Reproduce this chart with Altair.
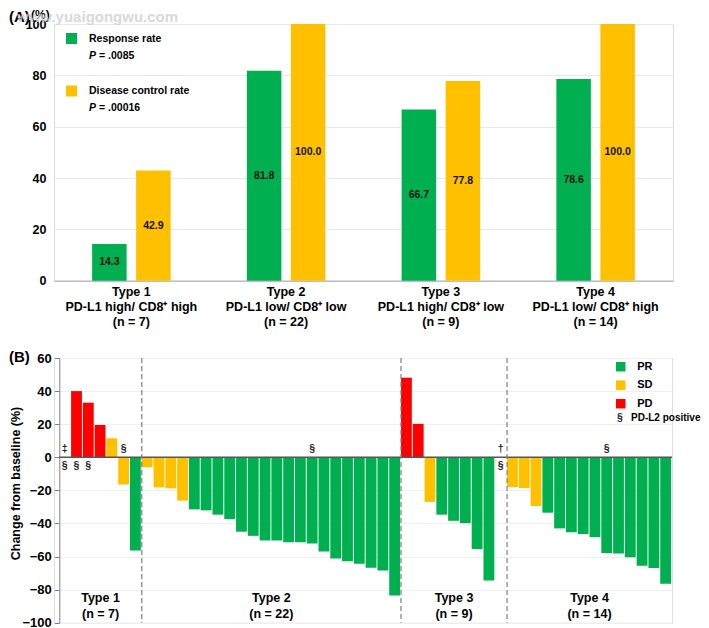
import altair as alt
import pandas as pd

# ---------------- Panel A data ----------------
groups = [
    "Type 1|PD-L1 high/ CD8⁺ high|(n = 7)",
    "Type 2|PD-L1 low/ CD8⁺ low|(n = 22)",
    "Type 3|PD-L1 high/ CD8⁺ low|(n = 9)",
    "Type 4|PD-L1 low/ CD8⁺ high|(n = 14)",
]
metrics = ["Response rate", "Disease control rate"]
response_rate = [14.3, 81.8, 66.7, 78.6]
disease_control_rate = [42.9, 100.0, 77.8, 100.0]
p_values = ["= .0085", "= .00016"]
colors_a = ["#00B050", "#FFC000"]

# ---------------- Panel B data ----------------
type_names = ["Type 1", "Type 2", "Type 3", "Type 4"]
type_n = [7, 22, 9, 14]
change = [0, 40, 33, 19.5, 11.5, -16.5, -56.4,
          -6, -18.2, -18.8, -26.2, -31.5, -32.1, -34.7, -37.4, -45, -47.5,
          -50.3, -50.3, -51.3, -51.3, -52.1, -57, -61.2, -62.8, -64.3, -66.8,
          -68.4, -83.6,
          48.1, 20.2, -27, -34.7, -38.4, -39.8, -55.5, -74.5, 0,
          -18, -18.6, -29.5, -33.5, -43, -45.4, -46.4, -48.3, -57.8, -58.2,
          -60.4, -65.6, -67, -76.5]
response = (["NE", "PD", "PD", "PD", "SD", "SD", "PR"]
            + ["SD", "SD", "SD", "SD"] + ["PR"] * 18
            + ["PD", "PD", "SD", "PR", "PR", "PR", "PR", "PR", "NE"]
            + ["SD", "SD", "SD"] + ["PR"] * 11)
legend_b = ["PR", "SD", "PD"]
colors_b = ["#00B050", "#FFC000", "#FF0000"]
pdl2_label = "PD-L2 positive"
annot_slot = [0, 0, 1, 2, 5, 21, 37, 37, 46]
annot_symbol = ["‡", "§", "§", "§", "§", "§", "†", "§", "§"]
annot_side = ["above", "below", "below", "below", "above", "above", "above", "below", "above"]

FONT = "Liberation Sans"

# ================= Panel A =================
WA, HA = 619, 256.7
dfA = pd.DataFrame({
    "group": groups * 2,
    "metric": [metrics[0]] * 4 + [metrics[1]] * 4,
    "value": response_rate + disease_control_rate,
})

xA = alt.X("group:N", sort=groups, scale=alt.Scale(paddingInner=0, paddingOuter=0),
           axis=alt.Axis(title=None, labelExpr="split(datum.label, '|')", labelFontSize=12.5,
                         labelFontWeight="bold", labelColor="black", labelLineHeight=15,
                         labelPadding=5, ticks=False, domainColor="#bfbfbf", domainWidth=1.5,
                         labelAngle=0, labelLimit=0))
xoA = alt.XOffset("metric:N", sort=metrics,
                  scale=alt.Scale(domain=metrics, paddingInner=0.216, paddingOuter=0.866))
yA = alt.Y("value:Q", scale=alt.Scale(domain=[0, 100], nice=False),
           axis=alt.Axis(values=[0, 20, 40, 60, 80, 100], title=None, domain=False, ticks=False,
                         labelPadding=8, labelFontSize=12.5, labelFontWeight="bold",
                         labelColor="black", grid=True, gridColor="#e8e8e8",
                         labelOverlap=False, minExtent=45, maxExtent=45))

barsA = alt.Chart(dfA).mark_bar().encode(
    x=xA, xOffset=xoA, y=yA,
    color=alt.Color("metric:N", sort=metrics,
                    scale=alt.Scale(domain=metrics, range=colors_a),
                    legend=alt.Legend(orient="none", legendX=12, legendY=9, title=None,
                                      symbolType="square", symbolSize=121, symbolStrokeWidth=0,
                                      labelFontSize=10.5, labelFontWeight="bold",
                                      labelColor="black", labelOffset=12, rowPadding=41.5,
                                      padding=0)),
)
labelsA = alt.Chart(dfA).transform_calculate(mid="datum.value / 2").mark_text(
    fontSize=10.5, fontWeight="bold", color="#111111"
).encode(x=xA, xOffset=xoA, y=alt.Y("mid:Q"), text=alt.Text("value:Q", format=".1f"))

layersA = [barsA, labelsA]
for k in range(2):
    yk = 31.7 + k * 52.2
    layersA.append(alt.Chart(pd.DataFrame({"t": ["P"]})).mark_text(
        fontSize=10.5, fontWeight="bold", fontStyle="italic", align="left", baseline="middle",
        color="black").encode(x=alt.value(35), y=alt.value(yk), text="t:N"))
    layersA.append(alt.Chart(pd.DataFrame({"t": [p_values[k]]})).mark_text(
        fontSize=10.5, fontWeight="bold", align="left", baseline="middle",
        color="black").encode(x=alt.value(45), y=alt.value(yk), text="t:N"))

layersA.append(alt.Chart(pd.DataFrame({"t": ["(A)"]})).mark_text(
    fontSize=15, fontWeight="bold", align="left", baseline="top", color="black"
).encode(x=alt.value(-45), y=alt.value(-13.6), text="t:N"))
layersA.append(alt.Chart(pd.DataFrame({"t": ["(%)"]})).mark_text(
    fontSize=12, fontWeight="bold", align="left", baseline="top", color="black"
).encode(x=alt.value(-23), y=alt.value(-13.6), text="t:N"))
layersA.append(alt.Chart(pd.DataFrame({"t": ["www.yuaigongwu.com"]})).mark_text(
    fontSize=15, fontWeight="bold", align="left", baseline="top", color="#d0d0d0", opacity=0.8
).encode(x=alt.value(-37), y=alt.value(-13.6), text="t:N"))

chartA = alt.layer(*layersA).properties(width=WA, height=HA)

# ================= Panel B =================
# plot area shares the left edge with panel A; the slots start 5.3 px further right
WB, HB = 618, 264.7
nslots = len(change)
xdom = [-0.45, nslots]
dfB = pd.DataFrame({"slot": list(range(nslots)), "change": change, "response": response})
dfB["x0"] = dfB["slot"]
dfB["x1"] = dfB["slot"] + 0.92
dfB["zero"] = 0

xscaleB = alt.Scale(domain=xdom, nice=False, zero=False)
xB = alt.X("x0:Q", scale=xscaleB, axis=None)
yscaleB = alt.Scale(domain=[-100, 60], nice=False)
yaxisB = alt.Axis(values=list(range(-100, 61, 20)), title="Change from baseline (%)",
                  labelFontSize=13, labelFontWeight="bold", labelColor="black",
                  tickSize=5, tickColor="#808080", domainColor="#808080",
                  labelPadding=3, grid=True, gridColor="#efefef", labelOverlap=False,
                  titleFontSize=12.5, titleFontWeight="bold", titleColor="black",
                  titlePadding=1, titleY=125, minExtent=36, maxExtent=36, offset=-5.3)
yB = alt.Y("change:Q", scale=yscaleB, axis=yaxisB)

barsB = alt.Chart(dfB).transform_filter("datum.response != 'NE'").mark_bar().encode(
    x=xB, x2="x1:Q", y=yB, y2="zero:Q",
    color=alt.Color("response:N", scale=alt.Scale(domain=legend_b, range=colors_b),
                    legend=alt.Legend(orient="none", legendX=561.25, legendY=3.2, title=None,
                                      symbolType="square", symbolSize=90, symbolStrokeWidth=0,
                                      labelFontSize=11, labelFontWeight="bold",
                                      labelColor="black", labelOffset=11, rowPadding=6.5,
                                      padding=0)),
)

zeroB = alt.Chart(pd.DataFrame({"a": [0], "b": [nslots], "change": [0]})).mark_rule(
    color="#555555", strokeWidth=1.3).encode(
    x=alt.X("a:Q", scale=xscaleB), x2="b:Q", y=yB)

bounds = []
centers = []
labels_b = []
acc = 0
for name, n in zip(type_names, type_n):
    centers.append(acc + n / 2)
    labels_b.append(f"{name}\n(n = {n})")
    acc += n
    bounds.append(acc)
dashB = alt.Chart(pd.DataFrame({"b": bounds[:-1]})).mark_rule(
    color="#7f7f7f", strokeDash=[5, 3], strokeWidth=1.2).encode(
    x=alt.X("b:Q", scale=xscaleB))

typeB = alt.Chart(pd.DataFrame({"c": centers, "change": [-85] * 4, "t": labels_b})).mark_text(
    fontSize=12.5, fontWeight="bold", color="black", lineBreak="\n", lineHeight=16,
    baseline="middle").encode(x=alt.X("c:Q", scale=xscaleB), y=yB, text="t:N")

dfAnn = pd.DataFrame({"slot": annot_slot, "sym": annot_symbol, "side": annot_side})
dfAnn["xc"] = dfAnn["slot"] + 0.46
dfAnn["change"] = dfAnn["side"].map({"above": 4.7, "below": -5.5})
annB = alt.Chart(dfAnn).mark_text(fontSize=10.5, fontWeight="bold", color="#222222",
                                  baseline="middle").encode(
    x=alt.X("xc:Q", scale=xscaleB), y=yB, text="sym:N")

sectB = alt.Chart(pd.DataFrame({"t": ["§"]})).mark_text(
    fontSize=10.5, fontWeight="bold", color="#222222", baseline="middle").encode(
    x=alt.value(566), y=alt.value(59.7), text="t:N")
pdl2B = alt.Chart(pd.DataFrame({"t": [pdl2_label]})).mark_text(
    fontSize=10, fontWeight="bold", color="black", align="left", baseline="middle").encode(
    x=alt.value(577), y=alt.value(59.7), text="t:N")
tagB = alt.Chart(pd.DataFrame({"t": ["(B)"]})).mark_text(
    fontSize=15, fontWeight="bold", align="left", baseline="top", color="black").encode(
    x=alt.value(-45), y=alt.value(-8), text="t:N")

chartB = alt.layer(barsB, zeroB, dashB, typeB, annB, sectB, pdl2B, tagB).properties(
    width=WB, height=HB)

chart = alt.vconcat(chartA, chartB, spacing=20).resolve_scale(
    color="independent"
).properties(
    padding={"left": 0, "top": 0, "right": 0, "bottom": 0}
).configure_view(stroke=None).configure(font=FONT).configure_axis(labelOverlap=False)

chart.save("out.html", embed_options={"renderer": "svg", "actions": False})
